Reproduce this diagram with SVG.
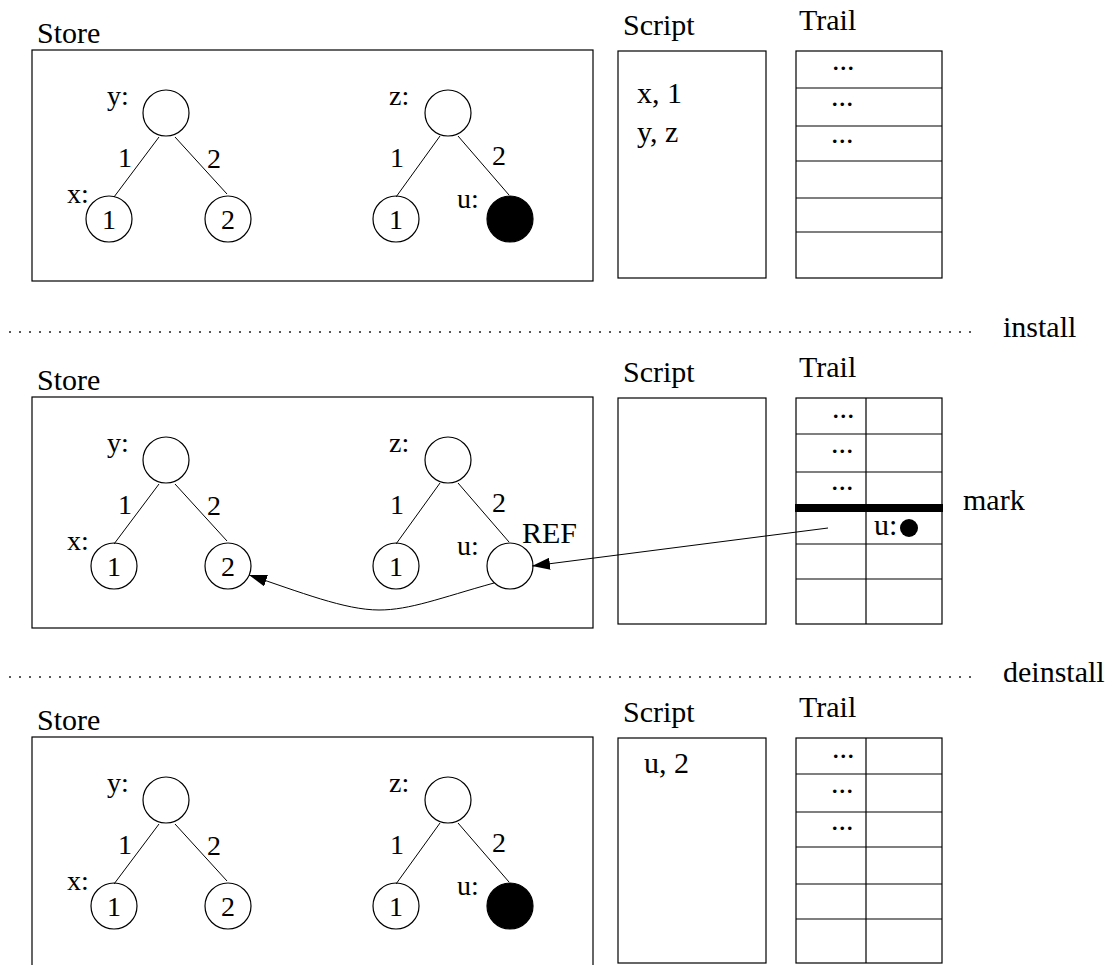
<svg xmlns="http://www.w3.org/2000/svg" width="1109" height="965" viewBox="0 0 1109 965">
  <defs>
    <style>
      text { font-family: "Liberation Serif", "Times New Roman", serif; fill: #000; }
      .lbl { font-size: 30px; }
      .tl { font-size: 28px; }
      .dig { font-size: 28px; text-anchor: middle; }
      .box { fill: none; stroke: #000; stroke-width: 1.2; }
      .edge { stroke: #000; stroke-width: 1; fill: none; }
      .node { fill: #fff; stroke: #000; stroke-width: 1.2; }
      .full { fill: #000; stroke: #000; stroke-width: 1.2; }
      .sep { stroke: #222; stroke-width: 1.6; stroke-dasharray: 2 8; fill: none; }
      .grid { stroke: #000; stroke-width: 1.2; fill: none; }
    </style>
    <marker id="head" markerUnits="userSpaceOnUse" markerWidth="19" markerHeight="12" refX="18" refY="6" orient="auto">
      <path d="M0,0 L18,6 L0,12 z" fill="#000"/>
    </marker>
  </defs>
  <rect width="1109" height="965" fill="#fff"/>

  <!-- phase separators -->
  <g id="separators">
    <line class="sep" x1="9" y1="332" x2="972" y2="332"/>
    <text class="lbl" x="1003" y="337">install</text>
    <line class="sep" x1="9" y1="677" x2="972" y2="677"/>
    <text class="lbl" x="1003" y="682">deinstall</text>
  </g>

  <!-- ===== state 1 ===== -->
  <g id="store1">
    <text class="lbl" x="37" y="43">Store</text>
    <rect class="box" x="32" y="50" width="561" height="231"/>
    <g id="s1-y"><circle class="node" cx="166" cy="113" r="23"/><text class="tl" x="107" y="105">y:</text></g>
    <g id="s1-x"><circle class="node" cx="109" cy="219" r="23"/><text class="dig" x="109" y="229">1</text><text class="tl" x="67" y="203">x:</text></g>
    <g id="s1-y2"><circle class="node" cx="228" cy="219" r="23"/><text class="dig" x="228" y="229">2</text></g>
    <g id="s1-z"><circle class="node" cx="448" cy="113" r="23"/><text class="tl" x="389" y="105">z:</text></g>
    <g id="s1-z1"><circle class="node" cx="396" cy="219" r="23"/><text class="dig" x="396" y="229">1</text></g>
    <g id="s1-u"><circle class="full" cx="510" cy="219" r="23"/><text class="tl" x="457" y="208">u:</text></g>
  </g>
  <g id="script1">
    <text class="lbl" x="623" y="35">Script</text>
    <rect class="box" x="618" y="51" width="148" height="227"/>
    <text class="lbl" x="637" y="103">x, 1</text>
    <text class="lbl" x="637" y="142">y, z</text>
  </g>
  <g id="trail1">
    <text class="lbl" x="799" y="30">Trail</text>
    <rect class="box" x="796" y="51" width="146" height="227"/>
    <path class="grid" d="M796,88 H942 M796,126 H942 M796,161 H942 M796,198 H942 M796,232 H942"/>
    <text class="lbl" x="832" y="70">...</text>
    <text class="lbl" x="831" y="106">...</text>
    <text class="lbl" x="831" y="143">...</text>
  </g>

  <!-- ===== state 2 ===== -->
  <g id="store2">
    <text class="lbl" x="37" y="390">Store</text>
    <rect class="box" x="32" y="397" width="561" height="231"/>
    <g id="s2-y"><circle class="node" cx="166" cy="460" r="23"/><text class="tl" x="107" y="452">y:</text></g>
    <g id="s2-x"><circle class="node" cx="114" cy="566" r="23"/><text class="dig" x="114" y="576">1</text><text class="tl" x="67" y="550">x:</text></g>
    <g id="s2-y2"><circle class="node" cx="228" cy="566" r="23"/><text class="dig" x="228" y="576">2</text></g>
    <g id="s2-z"><circle class="node" cx="448" cy="460" r="23"/><text class="tl" x="389" y="452">z:</text></g>
    <g id="s2-z1"><circle class="node" cx="396" cy="566" r="23"/><text class="dig" x="396" y="576">1</text></g>
    <g id="s2-u"><circle class="node" cx="510" cy="566" r="23"/><text class="tl" x="457" y="555">u:</text><text class="lbl" x="522" y="543">REF</text></g>
  </g>
  <g id="script2">
    <text class="lbl" x="623" y="382">Script</text>
    <rect class="box" x="618" y="398" width="148" height="226"/>
  </g>
  <g id="trail2">
    <text class="lbl" x="799" y="377">Trail</text>
    <rect class="box" x="796" y="398" width="146" height="226"/>
    <path class="grid" d="M866,398 V624 M796,434 H942 M796,472 H942 M796,544 H942 M796,579 H942"/>
    <rect x="795" y="504" width="148" height="8" fill="#000"/>
    <text class="lbl" x="832" y="418">...</text>
    <text class="lbl" x="831" y="453">...</text>
    <text class="lbl" x="831" y="490">...</text>
    <text class="lbl" x="874" y="535">u:</text>
    <circle cx="909" cy="528" r="9" fill="#000"/>
    <text class="lbl" x="963" y="510">mark</text>
  </g>

  <!-- ===== state 3 ===== -->
  <g id="store3">
    <text class="lbl" x="37" y="730">Store</text>
    <rect class="box" x="32" y="737" width="561" height="240"/>
    <g id="s3-y"><circle class="node" cx="166" cy="800" r="23"/><text class="tl" x="107" y="792">y:</text></g>
    <g id="s3-x"><circle class="node" cx="114" cy="906" r="23"/><text class="dig" x="114" y="916">1</text><text class="tl" x="67" y="890">x:</text></g>
    <g id="s3-y2"><circle class="node" cx="228" cy="906" r="23"/><text class="dig" x="228" y="916">2</text></g>
    <g id="s3-z"><circle class="node" cx="448" cy="800" r="23"/><text class="tl" x="389" y="792">z:</text></g>
    <g id="s3-z1"><circle class="node" cx="396" cy="906" r="23"/><text class="dig" x="396" y="916">1</text></g>
    <g id="s3-u"><circle class="full" cx="510" cy="906" r="23"/><text class="tl" x="457" y="895">u:</text></g>
  </g>
  <g id="script3">
    <text class="lbl" x="623" y="722">Script</text>
    <rect class="box" x="618" y="738" width="148" height="225"/>
    <text class="lbl" x="644" y="773">u, 2</text>
  </g>
  <g id="trail3">
    <text class="lbl" x="799" y="717">Trail</text>
    <rect class="box" x="796" y="738" width="146" height="225"/>
    <path class="grid" d="M866,738 V963 M796,774 H942 M796,812 H942 M796,847 H942 M796,884 H942 M796,919 H942"/>
    <text class="lbl" x="832" y="758">...</text>
    <text class="lbl" x="831" y="793">...</text>
    <text class="lbl" x="831" y="830">...</text>
  </g>

  <!-- tree edges, their labels and reference arrows -->
  <g id="connectors">
    <g id="edges1">
      <path class="edge" d="M159,137 L114,197 M175,137 L227,194 M440,136 L396,197 M458,136 L509,195"/>
      <text class="tl" x="118" y="167">1</text><text class="tl" x="207" y="168">2</text>
      <text class="tl" x="390" y="167">1</text><text class="tl" x="492" y="165">2</text>
    </g>
    <g id="edges2">
      <path class="edge" d="M159,484 L114,544 M175,484 L227,541 M440,483 L396,544 M458,483 L509,542"/>
      <text class="tl" x="118" y="514">1</text><text class="tl" x="207" y="515">2</text>
      <text class="tl" x="390" y="514">1</text><text class="tl" x="492" y="512">2</text>
    </g>
    <g id="edges3">
      <path class="edge" d="M159,824 L114,884 M175,824 L227,881 M440,823 L396,884 M458,823 L509,882"/>
      <text class="tl" x="118" y="854">1</text><text class="tl" x="207" y="855">2</text>
      <text class="tl" x="390" y="854">1</text><text class="tl" x="492" y="852">2</text>
    </g>
    <path id="trail-to-u" class="edge" d="M828,528 L532,566" marker-end="url(#head)"/>
    <path id="u-to-2" class="edge" d="M494,583 C440,598 410,610 379,610 C345,610 300,592 249,575" marker-end="url(#head)"/>
  </g>
</svg>
